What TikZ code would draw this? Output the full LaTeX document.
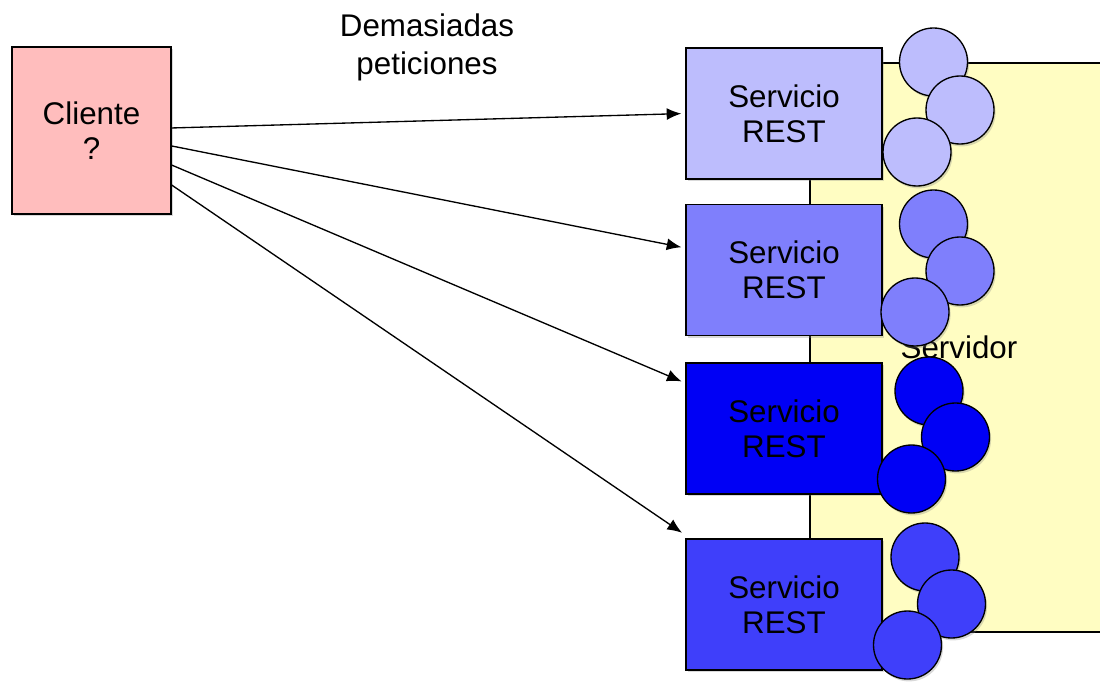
\documentclass[tikz,border=0pt]{standalone}
\usepackage{fontspec}
\setmainfont{Liberation Sans}
\usetikzlibrary{arrows.meta,shadows}
\definecolor{clienterosa}{HTML}{FFBDBD}
\definecolor{servidoramarillo}{HTML}{FFFDC2}
\definecolor{azuluno}{HTML}{BDBDFD}
\definecolor{azuldos}{HTML}{7F7FFC}
\definecolor{azultres}{HTML}{0000F5}
\definecolor{azulcuatro}{HTML}{3F3FFA}
\begin{document}
\begin{tikzpicture}[x=0.75pt, y=-0.75pt,
		texto/.style={align=center, font=\fontsize{23.5}{26.5}\selectfont},
		sombra/.style={drop shadow={shadow xshift=1.2pt, shadow yshift=-1.8pt, opacity=0.3}},
		caja/.style={rectangle, draw, line width=1pt, texto, sombra},
		servicio/.style={caja, minimum width=147pt, minimum height=98.25pt},
		bola/.style={circle, draw, line width=1pt, minimum size=51pt, inner sep=0pt, sombra},
		peticion/.style={line width=1pt, -{Latex[length=11pt, width=9pt]}, shorten >=3pt}]
		\useasboundingbox (0,0) rectangle (1100,682);
		\clip (0,0) rectangle (1100,682);
		\node(SERVIDOR) at (989, 347.5)[rectangle, draw, line width=1pt, fill=servidoramarillo, minimum width=268.5pt, minimum height=426.75pt, label={[texto, xshift=-22.5pt]center:Servidor}]{};
		\node(CLIENTE) at (91.5, 130.5)[caja, fill=clienterosa, minimum width=119.25pt, minimum height=125.25pt]{Cliente\\?};
		\node(TEXTO) at (427, 47)[texto, font=\fontsize{23.5}{28.5}\selectfont]{Demasiadas\\peticiones};
		\node(S1) at (784, 113.5)[servicio, fill=azuluno]{Servicio\\REST};
		\node(S2) at (784, 270)[servicio, fill=azuldos]{Servicio\\REST};
		\node(S3) at (784, 428.5)[servicio, fill=azultres]{Servicio\\REST};
		\node(S4) at (784, 604.5)[servicio, fill=azulcuatro]{Servicio\\REST};
		\node(B11) at (933.5, 62)[bola, fill=azuluno]{};
		\node(B12) at (960, 110)[bola, fill=azuluno]{};
		\node(B13) at (917, 152)[bola, fill=azuluno]{};
		\node(B21) at (933.5, 224)[bola, fill=azuldos]{};
		\node(B22) at (960, 271)[bola, fill=azuldos]{};
		\node(B23) at (915, 312)[bola, fill=azuldos]{};
		\node(B31) at (929, 391)[bola, fill=azultres]{};
		\node(B32) at (955.5, 437)[bola, fill=azultres]{};
		\node(B33) at (911.5, 479)[bola, fill=azultres]{};
		\node(B41) at (925, 557)[bola, fill=azulcuatro]{};
		\node(B42) at (951.5, 604)[bola, fill=azulcuatro]{};
		\node(B43) at (907.5, 645)[bola, fill=azulcuatro]{};
		\draw[peticion] ([yshift=1.9pt]CLIENTE.east) -- (S1.west);
		\draw[peticion] ([yshift=-11.6pt]CLIENTE.east) -- ([yshift=16.5pt]S2.west);
		\draw[peticion] ([yshift=-25.9pt]CLIENTE.east) -- ([yshift=34.1pt]S3.west);
		\draw[peticion] ([yshift=-40.9pt]CLIENTE.east) -- ([yshift=52.1pt]S4.west);
	\end{tikzpicture}
\end{document}
